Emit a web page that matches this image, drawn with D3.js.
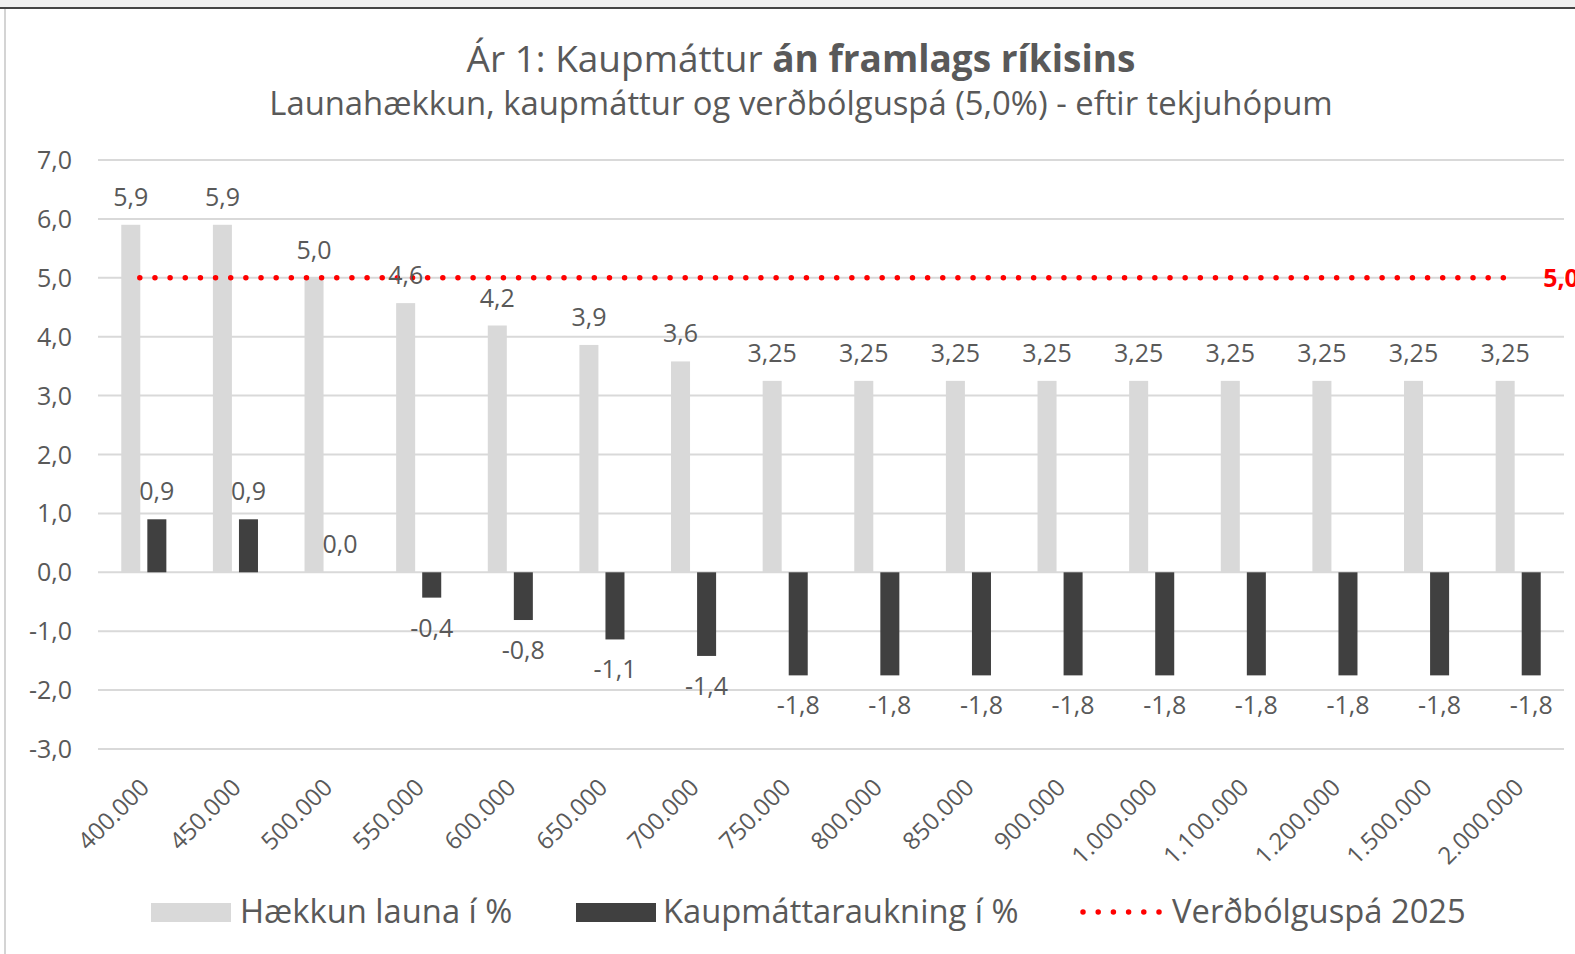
<!DOCTYPE html>
<html>
<head>
<meta charset="utf-8">
<script src="https://cdn.jsdelivr.net/npm/d3@7"></script>
<style>
  html, body { margin: 0; padding: 0; background: #ffffff; }
  svg { display: block; }
  text { font-family: "Open Sans", "Noto Sans", sans-serif; fill: #595959; }
</style>
</head>
<body>
<script>
// ---------- data ----------
const categories = ["400.000","450.000","500.000","550.000","600.000","650.000","700.000","750.000",
  "800.000","850.000","900.000","1.000.000","1.100.000","1.200.000","1.500.000","2.000.000"];
const haekkunLauna = [5.9, 5.9, 5.0, 4.57, 4.19, 3.86, 3.58, 3.25, 3.25, 3.25, 3.25, 3.25, 3.25, 3.25, 3.25, 3.25];
const kaupmattaraukning = [0.9, 0.9, 0.0, -0.43, -0.81, -1.14, -1.42, -1.75, -1.75, -1.75, -1.75, -1.75, -1.75, -1.75, -1.75, -1.75];
const verdbolguspa = [5.0, 5.0, 5.0, 5.0, 5.0, 5.0, 5.0, 5.0, 5.0, 5.0, 5.0, 5.0, 5.0, 5.0, 5.0, 5.0];
const yTicks = [-3, -2, -1, 0, 1, 2, 3, 4, 5, 6, 7];
const seriesNames = ["Hækkun launa í %", "Kaupmáttaraukning í %", "Verðbólguspá 2025"];
const titleRegular = "Ár 1: Kaupmáttur ";
const titleBold = "án framlags ríkisins";
const subtitle = "Launahækkun, kaupmáttur og verðbólguspá (5,0%) - eftir tekjuhópum";

// ---------- helpers ----------
const comma = s => s.replace(".", ",");
const fmt1 = v => comma(v.toFixed(1));
const fmtH = v => { const c = Math.round(v * 100); return (c % 25 === 0 && c % 50 !== 0) ? comma(v.toFixed(2)) : fmt1(v); };

const W = 1575, H = 954;
const svg = d3.select("body").append("svg").attr("width", W).attr("height", H);
svg.append("rect").attr("width", W).attr("height", H).attr("fill", "#ffffff");

// window frame bits
svg.append("rect").attr("x", 0).attr("y", 0).attr("width", W).attr("height", 7).attr("fill", "#f0f0f0");
svg.append("line").attr("x1", 0).attr("x2", W).attr("y1", 8).attr("y2", 8).attr("stroke", "#454545").attr("stroke-width", 2);
svg.append("line").attr("x1", 5).attr("x2", 5).attr("y1", 9).attr("y2", H).attr("stroke", "#d4d4d4").attr("stroke-width", 2);

// ---------- scales ----------
const x = d3.scaleBand().domain(categories).range([98, 1564]).paddingInner(0).paddingOuter(0);
const B = x.bandwidth();
const xSub = d3.scaleBand().domain(["h", "k"]).range([B * 0.254, B * 0.746]).paddingInner(0.27);
const y = d3.scaleLinear().domain([-3, 7]).range([749, 160]);

// gridlines
svg.append("g").selectAll("line").data(yTicks).join("line")
  .attr("x1", 98).attr("x2", 1564)
  .attr("y1", d => y(d)).attr("y2", d => y(d))
  .attr("stroke", "#d9d9d9").attr("stroke-width", 2);

// y tick labels
svg.append("g").selectAll("text").data(yTicks).join("text")
  .attr("x", 72).attr("y", d => y(d)).attr("dy", "0.36em")
  .attr("text-anchor", "end").attr("font-size", 25)
  .text(d => fmt1(d));

// bars
svg.append("g").selectAll("rect").data(haekkunLauna).join("rect")
  .attr("x", (d, i) => x(categories[i]) + xSub("h"))
  .attr("width", xSub.bandwidth())
  .attr("y", d => y(Math.max(0, d)))
  .attr("height", d => Math.abs(y(d) - y(0)))
  .attr("fill", "#d9d9d9");

svg.append("g").selectAll("rect").data(kaupmattaraukning).join("rect")
  .attr("x", (d, i) => x(categories[i]) + xSub("k"))
  .attr("width", xSub.bandwidth())
  .attr("y", d => y(Math.max(0, d)))
  .attr("height", d => Math.abs(y(d) - y(0)))
  .attr("fill", "#404040");

// inflation line (dotted)
const xLine = d3.scalePoint().domain(categories)
  .range([x(categories[0]) + B / 2 - 4, x(categories[categories.length - 1]) + B / 2]);
const line = d3.line().x((d, i) => xLine(categories[i])).y(d => y(d));
svg.append("path").datum(verdbolguspa)
  .attr("d", line)
  .attr("fill", "none").attr("stroke", "#ff0000").attr("stroke-width", 5.5)
  .attr("stroke-linecap", "round").attr("stroke-dasharray", "0 15.15");

// data labels
svg.append("g").selectAll("text").data(haekkunLauna).join("text")
  .attr("x", (d, i) => x(categories[i]) + xSub("h") + xSub.bandwidth() / 2)
  .attr("y", d => y(d) - 19)
  .attr("text-anchor", "middle").attr("font-size", 25)
  .text(d => fmtH(d));

svg.append("g").selectAll("text").data(kaupmattaraukning).join("text")
  .attr("x", (d, i) => x(categories[i]) + xSub("k") + xSub.bandwidth() / 2)
  .attr("y", d => d >= 0 ? y(d) - 19 : y(d) + 39)
  .attr("text-anchor", "middle").attr("font-size", 25)
  .text(d => fmt1(d));

// last point label of line
const lastI = verdbolguspa.length - 1;
svg.append("text")
  .attr("x", xLine(categories[lastI]) + 25)
  .attr("y", y(verdbolguspa[lastI])).attr("dy", "0.36em")
  .attr("font-size", 25).attr("font-weight", "bold")
  .style("fill", "#ff0000")
  .text(fmt1(verdbolguspa[lastI]));

// x axis labels
svg.append("g").selectAll("text").data(categories).join("text")
  .attr("transform", d => `translate(${x(d) + B / 2 + 1},${783}) rotate(-45)`)
  .attr("dy", "0.35em")
  .attr("text-anchor", "end").attr("font-size", 24)
  .text(d => d);

// title
const title = svg.append("text").attr("x", 801).attr("y", 72)
  .attr("text-anchor", "middle").attr("font-size", 34);
title.append("tspan").text(titleRegular);
title.append("tspan").attr("font-weight", "bold").text(titleBold);
const tw = title.node().getBBox().width;
title.attr("font-size", 34 * 669 / tw);

const sub = svg.append("text").attr("x", 801).attr("y", 115)
  .attr("text-anchor", "middle").attr("font-size", 28).text(subtitle);
const sw = sub.node().getBBox().width;
sub.attr("font-size", 28 * 1064 / sw);

// legend
const leg = svg.append("g");
leg.append("rect").attr("x", 151).attr("y", 903).attr("width", 80).attr("height", 19).attr("fill", "#d9d9d9");
leg.append("rect").attr("x", 576).attr("y", 903).attr("width", 80).attr("height", 19).attr("fill", "#404040");
leg.append("line").attr("x1", 1083).attr("x2", 1160).attr("y1", 912).attr("y2", 912)
  .attr("stroke", "#ff0000").attr("stroke-width", 5.5)
  .attr("stroke-linecap", "round").attr("stroke-dasharray", "0 15.2");
const legX = [240, 663, 1172];
const legTarget = [272, 355, 295];
const legTexts = leg.selectAll("text.l").data(seriesNames).join("text")
  .attr("class", "l")
  .attr("x", (d, i) => legX[i]).attr("y", 923)
  .attr("font-size", 30).text(d => d);
let measured = 0;
legTexts.each(function () { measured += this.getBBox().width; });
legTexts.attr("font-size", 30 * d3.sum(legTarget) / measured);
</script>
</body>
</html>
